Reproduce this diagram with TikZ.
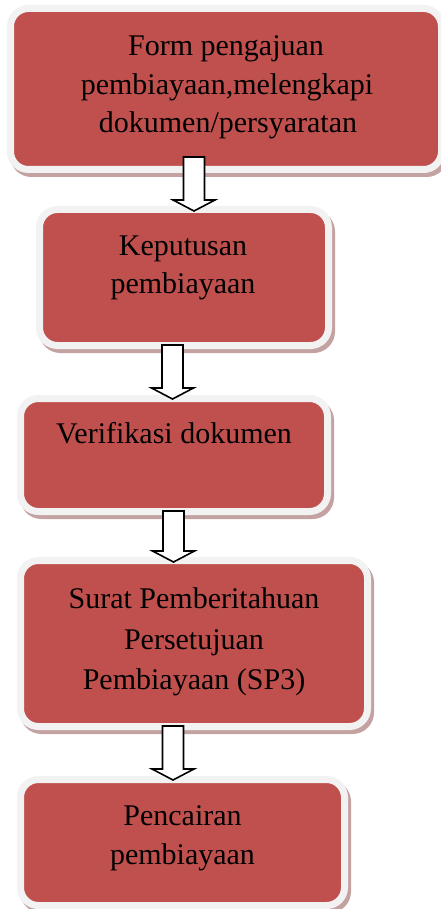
\documentclass[tikz,border=0pt]{standalone}
\usepackage{fontspec}
\setmainfont{Liberation Serif}
\usetikzlibrary{shadows,calc}
\definecolor{boxred}{HTML}{C0504D}
\definecolor{rim}{HTML}{F2F2F2}
\definecolor{shade}{HTML}{C4A2A2}
\tikzset{
  stepbox/.style={rectangle, rounded corners=18pt, fill=boxred, draw=rim, line width=7pt, inner sep=0pt,
    general shadow={fill=shade, draw=shade, line width=7pt, shadow xshift=3pt, shadow yshift=-4pt}},
  lbl/.style={anchor=base, inner sep=0pt, font=\fontsize{30}{36}\selectfont},
  blockarrow/.style={draw=black, fill=white, line width=1.6pt, line join=miter},
}
\newcommand\blockarr[2]{%
  \draw[blockarrow] ($(#1)+(-10.5,0)$) -- ($(#1)+(10.5,0)$) -- ($(#2)+(10.5,-11)$) -- ($(#2)+(21,-11)$) -- (#2) -- ($(#2)+(-21,-11)$) -- ($(#2)+(-10.5,-11)$) -- cycle;}
\begin{document}
\begin{tikzpicture}[x=1pt,y=-1pt]
\useasboundingbox[fill=white] (0,0) rectangle (440,909);
% boxes
\node[stepbox, minimum width=431pt, minimum height=161pt] (b1) at (226,89) {};
\node[stepbox, minimum width=289pt, minimum height=136pt] (b2) at (184,277.5) {};
\node[stepbox, minimum width=307pt, minimum height=113pt] (b3) at (174,455) {};
\node[stepbox, minimum width=347pt, minimum height=166pt] (b4) at (194,643.5) {};
\node[stepbox, minimum width=324pt, minimum height=126pt] (b5) at (182.5,842.5) {};
% texts
\node[lbl] (t1a) at (226,56) {Form pengajuan};
\node[lbl] (t1b) at (227,95) {pembiayaan,melengkapi};
\node[lbl] (t1c) at (228,133) {dokumen/persyaratan};
\node[lbl] (t2a) at (183,255) {Keputusan};
\node[lbl] (t2b) at (183,293.5) {pembiayaan};
\node[lbl] (t3a) at (174,443) {Verifikasi dokumen};
\node[lbl] (t4a) at (194,608) {Surat Pemberitahuan};
\node[lbl] (t4b) at (194,649) {Persetujuan};
\node[lbl] (t4c) at (194,689) {Pembiayaan (SP3)};
\node[lbl] (t5a) at (182.5,825) {Pencairan};
\node[lbl] (t5b) at (182.5,864) {pembiayaan};
% arrows
\coordinate (a1s) at (194,157);   \coordinate (a1e) at (194,211);
\coordinate (a2s) at (172.5,345); \coordinate (a2e) at (172.5,399);
\coordinate (a3s) at (173.5,511); \coordinate (a3e) at (173.5,562);
\coordinate (a4s) at (173,726);   \coordinate (a4e) at (173,780);
\blockarr{a1s}{a1e}
\blockarr{a2s}{a2e}
\blockarr{a3s}{a3e}
\blockarr{a4s}{a4e}
\end{tikzpicture}
\end{document}
